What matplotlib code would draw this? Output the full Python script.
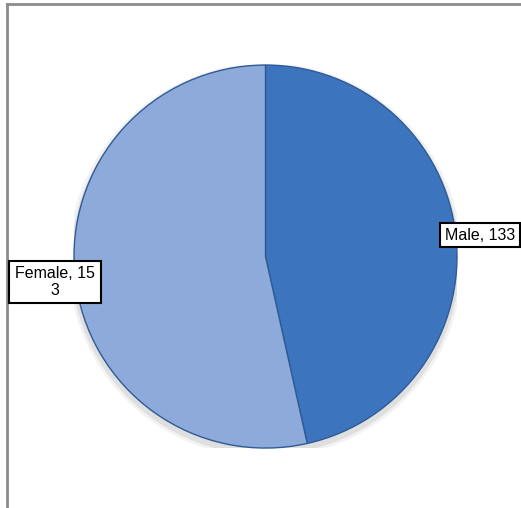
import matplotlib
matplotlib.use("Agg")
from matplotlib import pyplot as plt
from matplotlib.lines import Line2D
from matplotlib.patches import Circle

plt.rcParams['font.family'] = ['Liberation Sans', 'DejaVu Sans']

# gender counts
labels = ['Male', 'Female']
counts = [133, 153]
colors = ['#3D74BE', '#8EAADA']

fig = plt.figure(figsize=(5.21, 5.08), dpi=100)
fig.patch.set_facecolor('white')

ax = fig.add_axes([0.142, 0.118, 0.7352, 0.754])
# soft shadow under the pie
for r, a in [(1.03, 0.05), (1.015, 0.08)]:
    ax.add_patch(Circle((0, -0.02), r, facecolor='black', alpha=a, edgecolor='none', zorder=0))
wedges, _ = ax.pie(counts, colors=colors, startangle=90, counterclock=False,
                   radius=1.0,
                   wedgeprops=dict(edgecolor='#2E5B96', linewidth=1.0))
ax.set_xlim(-1, 1)
ax.set_ylim(-1, 1)
ax.set_aspect('equal')
ax.axis('off')

# chart frame (left and top edges visible)
fig.add_artist(Line2D([7 / 521, 7 / 521], [0, 1 - 4 / 508], color='#8C8C8C', linewidth=2))
fig.add_artist(Line2D([7 / 521, 1], [1 - 4 / 508, 1 - 4 / 508], color='#8C8C8C', linewidth=2))

box = dict(boxstyle='square,pad=0.3', facecolor='white', edgecolor='black', linewidth=1.5)

fig.text(445 / 521, 1 - 235 / 508, '%s, %d' % (labels[0], counts[0]),
         fontsize=11.5, ha='left', va='center', bbox=box)
fem = '%s, %d' % (labels[1], counts[1])
fig.text(55 / 521, 1 - 282 / 508, fem[:-1] + '\n' + fem[-1],
         fontsize=11.5, ha='center', va='center', linespacing=1.1,
         bbox=dict(boxstyle='square,pad=0.35', facecolor='white', edgecolor='black', linewidth=1.5))

plt.savefig('out.png', dpi=100)
